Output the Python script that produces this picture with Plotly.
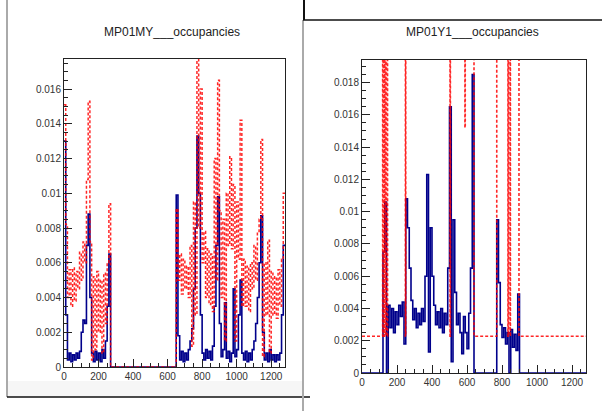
import numpy as np
import plotly.graph_objects as go

# ---------------- data (bin width 10, 128 bins from 0 to 1280) ----------------
BIN_WIDTH = 10
N_BINS = 128

left_blue = [
    0.0130, 0.0030, 0.0004, 0.0008, 0.0003, 0.0007, 0.0004, 0.0008, 0.0005, 0.0009,
    0.0020, 0.0027, 0.0025, 0.0070, 0.0088, 0.0040, 0.0008, 0.0003, 0.0009, 0.0004,
    0.0008, 0.0003, 0.0010, 0.0005, 0.0015, 0.0035, 0.0065,
] + [0.0] * 38 + [
    0.0099, 0.0018, 0.0004, 0.0009, 0.0003, 0.0008, 0.0004, 0.0010, 0.0015, 0.0022,
    0.0045, 0.0080, 0.0133, 0.0100, 0.0030, 0.0008, 0.0004, 0.0010, 0.0005, 0.0009,
    0.0004, 0.0012, 0.0035, 0.0070, 0.0098, 0.0025, 0.0006, 0.0010, 0.0037, 0.0005,
    0.0009, 0.0003, 0.0008, 0.0045, 0.0006, 0.0010, 0.0030, 0.0050, 0.0008, 0.0004,
    0.0009, 0.0003, 0.0008, 0.0004, 0.0010, 0.0015, 0.0025, 0.0040, 0.0060, 0.0087,
    0.0020, 0.0004, 0.0008, 0.0003, 0.0010, 0.0004, 0.0007, 0.0003, 0.0007, 0.0004,
    0.0008, 0.0030, 0.0070,
]

left_red = [
    0.0151, 0.0082, 0.0040, 0.0056, 0.0035, 0.0057, 0.0038, 0.0055, 0.0045, 0.0066,
    0.0050, 0.0072, 0.0060, 0.0108, 0.0153, 0.0072, 0.0004, 0.0052, 0.0010, 0.0055,
    0.0020, 0.0050, 0.0008, 0.0054, 0.0025, 0.0060, 0.0094,
] + [0.0] * 38 + [
    0.0091, 0.0050, 0.0065, 0.0042, 0.0062, 0.0045, 0.0058, 0.0040, 0.0070, 0.0012,
    0.0095, 0.0030, 0.0200, 0.0080, 0.0160, 0.0060, 0.0078, 0.0040, 0.0068, 0.0036,
    0.0065, 0.0032, 0.0120, 0.0050, 0.0165, 0.0090, 0.0040, 0.0085, 0.0015, 0.0100,
    0.0070, 0.0121, 0.0068, 0.0105, 0.0015, 0.0095, 0.0062, 0.0142, 0.0035, 0.0062,
    0.0035, 0.0058, 0.0032, 0.0060, 0.0045, 0.0070, 0.0050, 0.0078, 0.0085, 0.0131,
    0.0006, 0.0060, 0.0030, 0.0073, 0.0008, 0.0055, 0.0030, 0.0052, 0.0028, 0.0056,
    0.0035, 0.0062, 0.0100,
]

right_blue = [0.0] * 12 + [
    0.0075, 0.0106, 0.0000, 0.0042, 0.0028, 0.0040, 0.0025, 0.0038, 0.0030, 0.0042,
    0.0035, 0.0044, 0.0018, 0.0108, 0.0090, 0.0065, 0.0045, 0.0033, 0.0040, 0.0028,
    0.0037, 0.0030, 0.0040, 0.0032, 0.0060, 0.0123, 0.0013, 0.0090, 0.0060, 0.0042,
    0.0030, 0.0038, 0.0028, 0.0040, 0.0025, 0.0037, 0.0030, 0.0065, 0.0165, 0.0007,
    0.0095, 0.0050, 0.0030, 0.0037, 0.0025, 0.0012, 0.0035, 0.0025, 0.0015, 0.0037,
    0.0065, 0.0185,
] + [0.0] * 13 + [
    0.0095, 0.0056, 0.0030, 0.0022, 0.0028, 0.0018, 0.0025, 0.0000, 0.0027, 0.0016,
    0.0024, 0.0014, 0.0049,
] + [0.0] * 38

# right reference histogram: variable-width bins (edges + contents)
REF = 0.00228     # reference level
OFF = 0.05        # off-scale content
right_red_edges = [0, 118, 121, 126, 130, 135, 140, 146, 248, 250, 503, 505, 588, 590,
                   640, 770, 834, 836, 846, 848, 897, 1280]
right_red_values = [REF, OFF, REF, OFF, REF, OFF, REF, OFF, REF, OFF, REF, OFF, 0.0152, OFF,
                    REF, OFF, REF, OFF, REF, OFF, REF]

titles = ["MP01MY___occupancies", "MP01Y1___occupancies"]
x_ticks = [0, 200, 400, 600, 800, 1000, 1200]

# ---------------- figure ----------------
W, H = 602, 411
edges = np.arange(N_BINS + 1) * BIN_WIDTH

def step(vals):
    return list(vals) + [vals[-1]]

BLUE = "#00008b"
RED = "rgba(255,0,0,0.85)"

fig = go.Figure()
fig.add_trace(go.Scatter(x=edges, y=step(left_blue), mode="lines", line_shape="hv",
                         line=dict(color=BLUE, width=1.6), xaxis="x", yaxis="y"))
fig.add_trace(go.Scatter(x=edges, y=step(left_red), mode="lines", line_shape="hv",
                         line=dict(color=RED, width=1.5, dash="3px,2px"), xaxis="x", yaxis="y"))
fig.add_trace(go.Scatter(x=edges, y=step(right_blue), mode="lines", line_shape="hv",
                         line=dict(color=BLUE, width=1.6), xaxis="x2", yaxis="y2"))
fig.add_trace(go.Scatter(x=right_red_edges, y=step(right_red_values), mode="lines", line_shape="hv",
                         line=dict(color=RED, width=1.6, dash="3px,2px"), xaxis="x2", yaxis="y2"))

FONT = dict(family="Liberation Sans, Arial, sans-serif", size=10, color="#333")
TFONT = dict(family="Liberation Sans, Arial, sans-serif", size=12, color="#222")

def xax(domain, anchor):
    return dict(domain=domain, anchor=anchor, range=[0, 1280], showgrid=False, zeroline=False,
                showline=True, linecolor="#222", linewidth=1, mirror=True,
                ticks="inside", ticklen=8, tickcolor="#222", tickvals=x_ticks,
                minor=dict(ticks="inside", ticklen=4, tickcolor="#222", tick0=0, dtick=50),
                tickfont=FONT, automargin=False)

def yax(domain, anchor, top):
    return dict(domain=domain, anchor=anchor, range=[0, top], showgrid=False, zeroline=False,
                showline=True, linecolor="#222", linewidth=1, mirror=True,
                ticks="inside", ticklen=8, tickcolor="#222", tick0=0, dtick=0.002,
                tickformat="~g",
                minor=dict(ticks="inside", ticklen=4, tickcolor="#222", tick0=0, dtick=0.0005),
                tickfont=FONT, automargin=False)

def px_x(p):
    return p / W

def px_y(p):
    return 1 - p / H

def pline(x0, y0, x1, y1, color, width):
    return dict(type="line", xref="paper", yref="paper", x0=px_x(x0), x1=px_x(x1),
                y0=px_y(y0), y1=px_y(y1), line=dict(color=color, width=width))

fig.update_layout(
    width=W, height=H, margin=dict(l=0, r=0, t=0, b=0, pad=0), autosize=False,
    paper_bgcolor="white", plot_bgcolor="white", showlegend=False,
    xaxis=xax([px_x(64), px_x(285)], "y"),
    yaxis=yax([px_y(367), px_y(59)], "x", 0.01773),
    xaxis2=xax([px_x(362), px_x(586)], "y2"),
    yaxis2=yax([px_y(373), px_y(60)], "x2", 0.0194),
    annotations=[
        dict(text=titles[0], x=px_x(172), y=px_y(32), xref="paper", yref="paper",
             xanchor="center", yanchor="middle", showarrow=False, font=TFONT),
        dict(text=titles[1], x=px_x(472), y=px_y(32), xref="paper", yref="paper",
             xanchor="center", yanchor="middle", showarrow=False, font=TFONT),
    ],
    shapes=[
        dict(type="rect", xref="paper", yref="paper", x0=px_x(8), x1=px_x(302), y0=px_y(397), y1=px_y(381),
             fillcolor="#f6f6f6", line=dict(width=0), layer="below"),
        pline(7, 0, 7, 397, "#aaaaaa", 2),
        pline(7, 397, 310, 397, "#111111", 1.5),
        pline(303, 20, 303, 411, "#aaaaaa", 2),
        pline(304, 0, 304, 20, "#111111", 2),
        pline(303, 20, 602, 20, "#111111", 1.5),
    ],
)

fig.write_html("out.html", config={"displayModeBar": False},
               post_script="document.body.style.margin='0';")
